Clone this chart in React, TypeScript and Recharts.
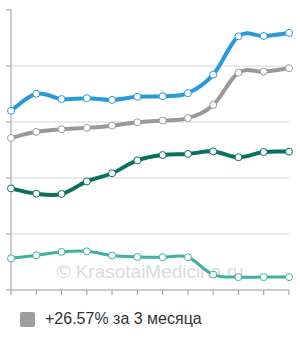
import React from "react";
import { LineChart, Line, XAxis, YAxis, CartesianGrid, Legend } from "recharts";

const categories = ["1", "2", "3", "4", "5", "6", "7", "8", "9", "10", "11", "12"];
const blueValues = [64.0, 70.1, 68.2, 68.5, 67.9, 69.0, 69.2, 70.3, 76.9, 90.6, 90.7, 91.8];
const grayValues = [54.3, 56.5, 57.4, 57.9, 58.7, 59.9, 60.5, 61.4, 66.1, 77.6, 78.0, 79.2];
const darkGreenValues = [36.3, 34.4, 34.3, 38.8, 41.7, 46.3, 48.2, 48.6, 49.5, 47.4, 49.3, 49.4];
const tealValues = [11.3, 12.4, 13.6, 13.8, 12.3, 11.8, 11.7, 11.7, 5.5, 4.6, 4.6, 4.6];
const yTicks = [0, 20, 40, 60, 80, 100];
const gridValues = [20, 40, 60, 80];
const legendLabel = "+26.57% за 3 месяца";
const watermark = "© KrasotaiMedicina.ru";

const data = categories.map((c, i) => ({
  name: c,
  blue: blueValues[i],
  gray: grayValues[i],
  dark: darkGreenValues[i],
  teal: tealValues[i],
}));

// cardinal-like spline curve factory
const spline = (k: number) => (context: any) => {
  let pts: number[][] = [];
  return {
    areaStart() {},
    areaEnd() {},
    lineStart() {
      pts = [];
    },
    point(x: number, y: number) {
      pts.push([+x, +y]);
    },
    lineEnd() {
      const n = pts.length;
      if (!n) return;
      context.moveTo(pts[0][0], pts[0][1]);
      for (let i = 0; i < n - 1; i++) {
        const p0 = pts[i - 1] || pts[i];
        const p1 = pts[i];
        const p2 = pts[i + 1];
        const p3 = pts[i + 2] || p2;
        context.bezierCurveTo(
          p1[0] + k * (p2[0] - p0[0]),
          p1[1] + k * (p2[1] - p0[1]),
          p2[0] - k * (p3[0] - p1[0]),
          p2[1] - k * (p3[1] - p1[1]),
          p2[0],
          p2[1]
        );
      }
    },
  };
};

const curve = spline(0.18);
const EmptyTick = () => <g />;

const dotStyle = (color: string) => ({ r: 3.5, fill: "#fff", stroke: color, strokeWidth: 1 });

const LegendContent = () => (
  <div style={{ display: "flex", alignItems: "center", height: 20 }}>
    <div style={{ width: 15, height: 15, background: "#9e9e9e", borderRadius: 2, marginRight: 10 }} />
    <span style={{ fontFamily: "'Liberation Sans', Arial, sans-serif", fontSize: 16, color: "#333" }}>
      {legendLabel}
    </span>
  </div>
);

export default function App() {
  return (
    <div style={{ position: "absolute", left: 0, top: 0, width: 300, height: 340 }}>
      <svg width={300} height={340} style={{ position: "absolute", left: 0, top: 0 }}>
        <text
          x={150}
          y={278}
          textAnchor="middle"
          fill="#dcdcdc"
          fontSize={19}
          fontFamily="'Liberation Sans', Arial, sans-serif"
        >
          {watermark}
        </text>
      </svg>
      <div style={{ position: "absolute", left: 0, top: 0 }}>
        <LineChart width={300} height={340} data={data} margin={{ top: 10, right: 11, left: 0, bottom: 40 }}>
          <CartesianGrid vertical={false} horizontalValues={gridValues} stroke="#d6d6d6" />
          <XAxis
            dataKey="name"
            height={10}
            tick={EmptyTick}
            tickSize={5}
            stroke="#999"
            interval={0}
          />
          <YAxis
            width={11}
            domain={[0, 100]}
            ticks={yTicks}
            tick={EmptyTick}
            tickSize={5}
            stroke="#999"
          />
          <Legend
            layout="vertical"
            verticalAlign="middle"
            align="center"
            content={LegendContent}
            wrapperStyle={{ position: "absolute", left: 20, top: 309, width: 260 }}
          />
          <Line dataKey="teal" type={curve as any} stroke="#3fb0a2" strokeWidth={3} dot={dotStyle("#3fb0a2")} isAnimationActive={false} />
          <Line dataKey="dark" type={curve as any} stroke="#0a6f5f" strokeWidth={4} dot={dotStyle("#0a6f5f")} isAnimationActive={false} />
          <Line dataKey="gray" type={curve as any} stroke="#999999" strokeWidth={4} dot={dotStyle("#999999")} isAnimationActive={false} />
          <Line dataKey="blue" type={curve as any} stroke="#2b99d8" strokeWidth={4} dot={dotStyle("#2b99d8")} isAnimationActive={false} />
        </LineChart>
      </div>
    </div>
  );
}
